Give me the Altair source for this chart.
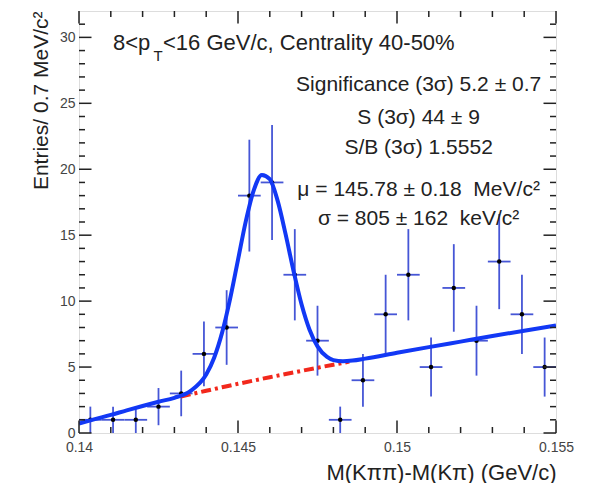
import altair as alt
import pandas as pd

FONT = "Liberation Sans"

# ---- data ----
bin_centers = [0.140357, 0.141071, 0.141786, 0.142500, 0.143214, 0.143929, 0.144643,
               0.145357, 0.146071, 0.146786, 0.147500, 0.148214, 0.148929, 0.149643,
               0.150357, 0.151071, 0.151786, 0.152500, 0.153214, 0.153929, 0.154643]
counts = [1, 1, 1, 2, 3, 6, 8, 18, 19, 12, 7, 1, 4, 9, 12, 5, 11, 7, 13, 9, 5]
errors = [1, 1, 1, 1.41, 1.73, 2.45, 2.83, 4.24, 4.36, 3.46, 2.65, 1, 2, 3, 3.46,
          2.24, 3.32, 2.65, 3.61, 3, 2.24]
half_bin = 0.000357

fit_x = [0.1400, 0.1405, 0.1410, 0.1415, 0.1420, 0.1425, 0.1430, 0.1435, 0.1440,
         0.14425, 0.1445, 0.14475, 0.1450, 0.14525, 0.1455, 0.14575, 0.1460, 0.14625,
         0.1465, 0.14675, 0.1470, 0.14725, 0.1475, 0.1478, 0.1480, 0.1483, 0.1486,
         0.1490, 0.1500, 0.1510, 0.1520, 0.1530, 0.1540, 0.1550]
fit_y = [0.72, 1.05, 1.37, 1.72, 2.05, 2.37, 2.67, 3.18, 4.43, 5.71, 7.61, 10.15,
         13.13, 16.10, 18.43, 19.57, 19.25, 17.58, 15.04, 12.25, 9.74, 7.83, 6.57,
         5.77, 5.53, 5.44, 5.49, 5.64, 6.08, 6.51, 6.93, 7.35, 7.76, 8.16]

bkg_x = [0.1432, 0.1435, 0.1440, 0.1445, 0.1450, 0.1455, 0.1460, 0.1465, 0.1470,
         0.1475, 0.1480, 0.1485]
bkg_y = [2.76, 2.93, 3.20, 3.47, 3.73, 3.98, 4.23, 4.47, 4.71, 4.95, 5.18, 5.41]

x_major = [0.14, 0.145, 0.15, 0.155]
x_minor = [0.141, 0.142, 0.143, 0.144, 0.146, 0.147, 0.148, 0.149,
           0.151, 0.152, 0.153, 0.154]
y_major = [0, 5, 10, 15, 20, 25, 30]
y_minor = [1, 2, 3, 4, 6, 7, 8, 9, 11, 12, 13, 14, 16, 17, 18, 19,
           21, 22, 23, 24, 26, 27, 28, 29, 31]

NB = "\u00a0"
stats_lines = ["Significance (3σ) 5.2 ± 0.7", "S (3σ) 44 ± 9", "S/B (3σ) 1.5552",
               "μ = 145.78 ± 0.18" + NB + NB + "MeV/c²",
               "σ = 805 ± 162" + NB + NB + "keV/c²"]
stats_y = [25.96, 23.4, 21.16, 17.97, 15.77]
stats_x = 0.15068

W, H = 477, 422
xs = alt.Scale(domain=[0.14, 0.155], nice=False, zero=False)
ys = alt.Scale(domain=[0, 32], nice=False, zero=False)

x_axis = alt.Axis(values=x_major, format="~g", ticks=False, domain=False,
                  grid=False, labelFontSize=14, labelFont=FONT,
                  labelColor="#444", labelPadding=7, labelFlush=False,
                  title="M(Kππ)-M(Kπ) (GeV/c)", titleFont=FONT,
                  titleFontSize=22, titleFontWeight="normal",
                  titleColor="#222", titleAnchor="end", titlePadding=8)
y_axis = alt.Axis(values=y_major, ticks=False, domain=False, grid=False,
                  labelFontSize=14, labelFont=FONT, labelColor="#444",
                  labelPadding=4, labelFlush=False,
                  title="Entries/ 0.7 MeV/c²", titleFont=FONT,
                  titleFontSize=21, titleFontWeight="normal",
                  titleColor="#222", titleAnchor="end", titlePadding=8)


def X(field):
    return alt.X(field, scale=xs, axis=x_axis)


def Y(field):
    return alt.Y(field, scale=ys, axis=y_axis)


pts = pd.DataFrame({"x": bin_centers, "y": counts, "e": errors})
pts["lo"] = (pts["y"] - pts["e"]).clip(lower=0)
pts["hi"] = pts["y"] + pts["e"]
pts["xl"] = pts["x"] - half_bin
pts["xr"] = pts["x"] + half_bin

fit = pd.DataFrame({"x": fit_x, "y": fit_y})
bkg = pd.DataFrame({"x": bkg_x, "y": bkg_y})

BAR = "#4656d6"
base = alt.Chart(pts)

vbars = base.mark_rule(color=BAR, strokeWidth=1.8).encode(
    x=X("x:Q"), y=Y("lo:Q"), y2="hi:Q")
hbars = base.mark_rule(color=BAR, strokeWidth=1.8).encode(
    x=X("xl:Q"), x2="xr:Q", y=Y("y:Q"))
dots = base.mark_circle(color="black", size=20, opacity=1).encode(
    x=X("x:Q"), y=Y("y:Q"))
red = alt.Chart(bkg).mark_line(color="#f2281c", strokeWidth=4,
                               strokeDash=[10, 4, 3, 4]).encode(
    x=X("x:Q"), y=Y("y:Q"))
blue = alt.Chart(fit).mark_line(color="#1238f5", strokeWidth=4,
                                interpolate="monotone", clip=True).encode(
    x=X("x:Q"), y=Y("y:Q"))


# ticks (ROOT style, inside the frame on all four sides)
def yticks(vals, x1, x2):
    return alt.Chart(pd.DataFrame({"y": vals})).mark_rule(
        color="#222", strokeWidth=1.5).encode(
        y=Y("y:Q"), x=alt.value(x1), x2=alt.value(x2))


def xticks(vals, y1, y2):
    return alt.Chart(pd.DataFrame({"x": vals})).mark_rule(
        color="#222", strokeWidth=1.5).encode(
        x=X("x:Q"), y=alt.value(y1), y2=alt.value(y2))


tick_layers = [
    yticks(y_major, 0, 12.5), yticks(y_minor, 0, 6),
    yticks(y_major, W, W - 12.5), yticks(y_minor, W, W - 6),
    xticks(x_major, H, H - 12.5), xticks(x_minor, H, H - 6),
    xticks(x_major, 0, 12.5), xticks(x_minor, 0, 6),
]

# text annotations
title_df = pd.DataFrame({
    "t": ["8<p", "<16 GeV/c, Centrality 40-50%"],
    "x": [0.141069, 0.142642],
    "y": [29.04, 29.04],
})
title_txt = alt.Chart(title_df).mark_text(
    align="left", baseline="alphabetic", font=FONT, fontSize=22, color="#222").encode(
    x=X("x:Q"), y=Y("y:Q"), text="t:N")
sub_df = pd.DataFrame({"t": ["T"], "x": [0.142340], "y": [28.2]})
sub_txt = alt.Chart(sub_df).mark_text(
    align="left", baseline="alphabetic", font=FONT, fontSize=15, color="#222").encode(
    x=X("x:Q"), y=Y("y:Q"), text="t:N")

stats_df = pd.DataFrame({"t": stats_lines, "y": stats_y, "x": [stats_x] * len(stats_lines)})
stats_txt = alt.Chart(stats_df).mark_text(
    align="center", baseline="alphabetic", font=FONT, fontSize=21, color="#222").encode(
    x=X("x:Q"), y=Y("y:Q"), text="t:N")

chart = alt.layer(
    vbars, hbars, dots, red, blue, *tick_layers, title_txt, sub_txt, stats_txt
).properties(
    width=W, height=H,
    autosize=alt.AutoSizeParams(type="none"),
    padding={"left": 79, "top": 11, "right": 36, "bottom": 50},
).configure_view(
    stroke="#222", strokeWidth=1.5
).configure(background="white")

chart.save("out.html", embed_options={"renderer": "svg", "actions": False})
